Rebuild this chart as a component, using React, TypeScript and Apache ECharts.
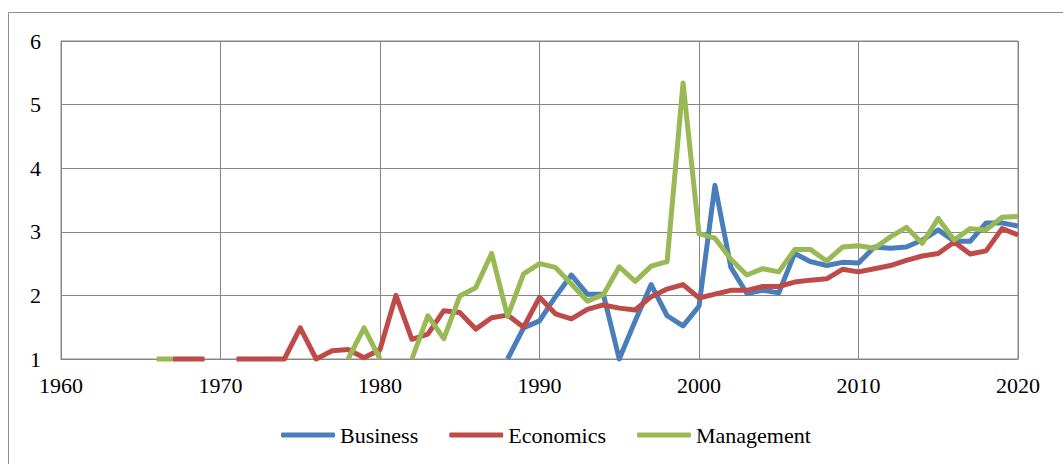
import React, { useEffect, useRef } from "react";
import * as echarts from "echarts";

const years = [
  1966, 1967, 1968, 1969, 1970, 1971, 1972, 1973, 1974, 1975,
  1976, 1977, 1978, 1979, 1980, 1981, 1982, 1983, 1984, 1985,
  1986, 1987, 1988, 1989, 1990, 1991, 1992, 1993, 1994, 1995,
  1996, 1997, 1998, 1999, 2000, 2001, 2002, 2003, 2004, 2005,
  2006, 2007, 2008, 2009, 2010, 2011, 2012, 2013, 2014, 2015,
  2016, 2017, 2018, 2019, 2020,
];

const business: (number | null)[] = [
  null, null, null, null, null, null, null, null, null, null,
  null, null, null, null, null, null, null, null, null, null,
  null, null, 1.0, 1.49, 1.6, 1.98, 2.32, 2.02, 2.02, 1.0,
  1.6, 2.17, 1.68, 1.52, 1.83, 3.73, 2.44, 2.03, 2.08, 2.04,
  2.66, 2.53, 2.47, 2.52, 2.51, 2.76, 2.74, 2.76, 2.87, 3.03,
  2.85, 2.85, 3.14, 3.14, 3.09,
];

const economics: (number | null)[] = [
  null, 1, 1, 1, null, 1, 1, 1, 1, 1.49,
  1.0, 1.13, 1.15, 1.02, 1.15, 2.0, 1.31, 1.39, 1.76, 1.73,
  1.47, 1.65, 1.69, 1.5, 1.97, 1.71, 1.63, 1.78, 1.85, 1.8,
  1.77, 1.98, 2.1, 2.17, 1.96, 2.02, 2.08, 2.08, 2.14, 2.14,
  2.21, 2.24, 2.26, 2.41, 2.37, 2.42, 2.47, 2.55, 2.62, 2.66,
  2.84, 2.65, 2.7, 3.05, 2.95,
];

const management: (number | null)[] = [
  1, 1, null, null, null, null, null, null, null, null,
  null, null, 1, 1.49, 1, null, 1, 1.68, 1.32, 1.99,
  2.12, 2.66, 1.67, 2.34, 2.5, 2.44, 2.18, 1.91, 2.01, 2.45,
  2.22, 2.46, 2.53, 5.34, 2.97, 2.9, 2.57, 2.32, 2.42, 2.37,
  2.72, 2.72, 2.54, 2.76, 2.78, 2.74, 2.92, 3.07, 2.82, 3.21,
  2.87, 3.05, 3.03, 3.23, 3.24,
];

const seriesNames = ["Business", "Economics", "Management"];
const seriesColors = ["#4a7ebb", "#be4b48", "#98b954"];
const seriesValues = [business, economics, management];

const FONT = "'Liberation Serif', 'Times New Roman', serif";

export default function App() {
  const ref = useRef<HTMLDivElement>(null);

  useEffect(() => {
    if (!ref.current) return;
    const chart = echarts.init(ref.current, undefined, { renderer: "svg" });
    const series = seriesNames.map((name, i) => ({
      name,
      type: "line",
      data: years.map((y, j) => [y, seriesValues[i][j]]),
      symbol: "none",
      showSymbol: false,
      connectNulls: false,
      clip: false,
      color: seriesColors[i],
      lineStyle: { color: seriesColors[i], width: 5, join: "round", cap: "butt" },
      z: 2 + i,
    }));
    chart.setOption({
      animation: false,
      backgroundColor: "#ffffff",
      textStyle: { fontFamily: FONT },
      graphic: [
        {
          type: "rect",
          shape: { x: 8.5, y: 12.5, width: 1200, height: 600 },
          style: { fill: "none", stroke: "#8e8e8e", lineWidth: 1 },
          silent: true,
          z: 0,
        },
      ],
      grid: {
        left: 61,
        top: 41,
        right: 45,
        bottom: 105,
        show: true,
        borderColor: "#868686",
        borderWidth: 1,
        backgroundColor: "transparent",
      },
      legend: {
        left: 276,
        top: 419,
        data: seriesNames,
        icon: "roundRect",
        itemWidth: 54,
        itemHeight: 5,
        itemGap: 31,
        textStyle: { fontFamily: FONT, fontSize: 22, color: "#000" },
      },
      xAxis: {
        type: "value",
        min: 1960,
        max: 2020,
        interval: 10,
        axisLine: { show: true, lineStyle: { color: "#868686", width: 1 } },
        axisTick: { show: false },
        splitLine: { show: true, lineStyle: { color: "#868686", width: 1 } },
        axisLabel: {
          fontFamily: FONT,
          fontSize: 22,
          color: "#000",
          margin: 15,
          formatter: (v: number) => String(v),
        },
      },
      yAxis: {
        type: "value",
        min: 1,
        max: 6,
        interval: 1,
        axisLine: { show: true, lineStyle: { color: "#868686", width: 1 } },
        axisTick: { show: false },
        splitLine: { show: true, lineStyle: { color: "#868686", width: 1 } },
        axisLabel: { fontFamily: FONT, fontSize: 22, color: "#000", margin: 20 },
      },
      series,
    });
    return () => chart.dispose();
  }, []);

  return (
    <div
      ref={ref}
      style={{ position: "absolute", left: 0, top: 0, width: 1063, height: 464 }}
    />
  );
}
